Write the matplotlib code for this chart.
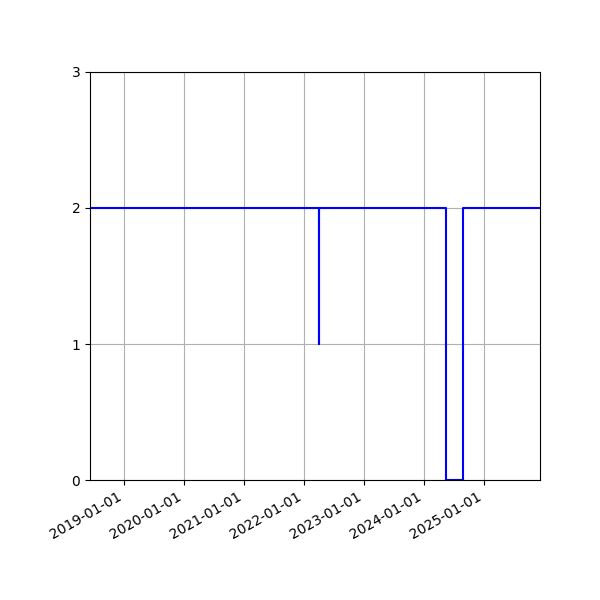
import matplotlib
matplotlib.use("Agg")
import matplotlib.pyplot as plt
import matplotlib.dates as mdates
import pandas as pd

dates = ["2018-06-08", "2022-04-01", "2022-04-02", "2024-05-14", "2024-08-25", "2025-12-07"]
values = [2, 1, 2, 0, 2, 2]

x = pd.to_datetime(dates)

fig = plt.figure(figsize=(6, 6), dpi=100)
ax = fig.add_axes([0.15, 0.2, 0.75, 0.68])
ax.step(x, values, where="post", color="blue", linewidth=1.5)
ax.set_xlim(x[0], x[-1])
ax.set_ylim(0, 3)
ax.set_yticks([0, 1, 2, 3])
ax.xaxis.set_major_locator(mdates.YearLocator())
ax.xaxis.set_major_formatter(mdates.DateFormatter("%Y-%m-%d"))
ax.grid(True)
for lbl in ax.get_xticklabels():
    lbl.set_rotation(30)
    lbl.set_ha("right")
fig.savefig("out.png")
